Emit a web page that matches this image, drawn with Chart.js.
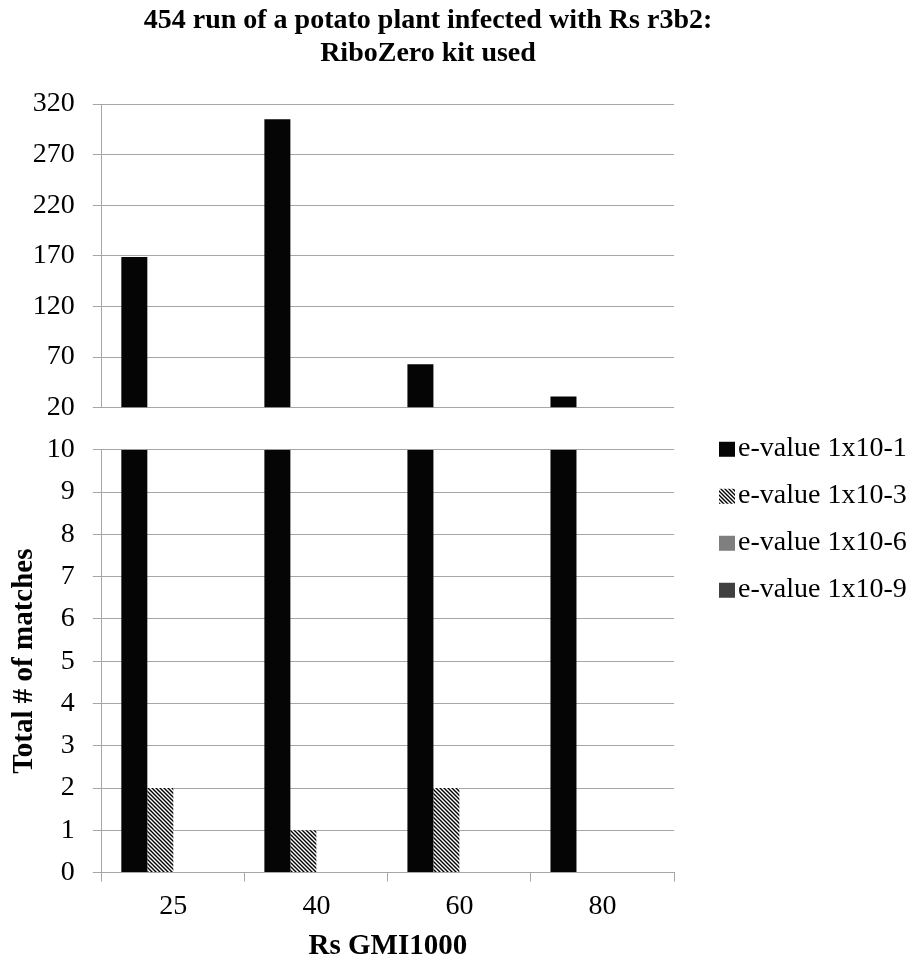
<!DOCTYPE html>
<html>
<head>
<meta charset="utf-8">
<title>454 run - RiboZero</title>
<script src="https://cdn.jsdelivr.net/npm/chart.js@4.4.1/dist/chart.umd.min.js"></script>
<style>
  body { margin: 0; background: #fff; }
  #wrap { width: 920px; height: 962px; position: relative; }
</style>
</head>
<body>
<div id="wrap"><canvas id="matchChart"></canvas></div>
<script>
var categories = ['25', '40', '60', '80'];
var seriesNames = ['e-value 1x10-1', 'e-value 1x10-3', 'e-value 1x10-6', 'e-value 1x10-9'];
var eval1 = [169, 305, 63, 31];
var eval3 = [2, 1, 2, 0];
var eval6 = [0, 0, 0, 0];
var eval9 = [0, 0, 0, 0];

// broken axis: upper part and lower part
var upperMin = 20, upperMax = 320, upperStep = 50;
var lowerMin = 0, lowerMax = 10, lowerStep = 1;

var titleLines = ['454 run of a potato plant infected with Rs r3b2:', 'RiboZero kit used'];
var xTitle = 'Rs GMI1000';
var yTitle = 'Total # of matches';

Chart.defaults.font.family = '"Liberation Serif", "Times New Roman", serif';
Chart.defaults.color = '#000';

function hatchPattern() {
    var c = document.createElement('canvas');
    c.width = 4;
    c.height = 4;
    var g = c.getContext('2d');
    g.fillStyle = '#fff';
    g.fillRect(0, 0, 4, 4);
    g.strokeStyle = '#000';
    g.lineWidth = 1.4;
    g.beginPath();
    g.moveTo(-1, -1); g.lineTo(5, 5);
    g.moveTo(-1, 3); g.lineTo(1, 5);
    g.moveTo(3, -1); g.lineTo(5, 1);
    g.stroke();
    return g.createPattern(c, 'repeat');
}

var seriesValues = [eval1, eval3, eval6, eval9];
var seriesFills = ['#050505', hatchPattern(), '#7f7f7f', '#404040'];

// each series is drawn twice, once per part of the axis, sharing one bar slot
var datasets = [];
seriesValues.forEach(function (vals, i) {
    datasets.push({
        label: seriesNames[i],
        data: vals.map(function (v) { return Math.max(v, upperMin); }),
        yAxisID: 'yTop',
        stack: 's' + i,
        base: upperMin,
        backgroundColor: seriesFills[i],
        borderWidth: 0
    });
    datasets.push({
        label: seriesNames[i],
        data: vals.map(function (v) { return Math.min(v, lowerMax); }),
        yAxisID: 'yBot',
        stack: 's' + i,
        backgroundColor: seriesFills[i],
        borderWidth: 0
    });
});

var gridGray = '#a6a6a6';

var sideLegend = {
    id: 'sideLegend',
    afterDraw: function (chart) {
        var ctx = chart.ctx;
        var area = chart.chartArea;
        var top = chart.scales.yBot.top;
        ctx.save();
        ctx.font = '28px "Liberation Serif"';
        ctx.textBaseline = 'middle';
        ctx.textAlign = 'left';
        for (var i = 0; i < seriesNames.length; i++) {
            var y = top - 1 + i * 47;
            ctx.fillStyle = seriesFills[i];
            ctx.fillRect(area.right + 45, y - 7, 16, 15);
            ctx.fillStyle = '#000';
            ctx.fillText(seriesNames[i], area.right + 64, y);
        }
        ctx.restore();
    }
};

var config = {
    type: 'bar',
    data: {
        labels: categories,
        datasets: datasets
    },
    options: {
        responsive: true,
        maintainAspectRatio: false,
        animation: false,
        categoryPercentage: 0.727,
        barPercentage: 1.0,
        layout: { padding: { left: 0, right: 64, top: 0, bottom: 0 } },
        plugins: {
            legend: { display: false },
            tooltip: { enabled: false },
            title: {
                display: true,
                text: titleLines,
                color: '#000',
                font: { size: 28, weight: 'bold', lineHeight: 1.18 },
                padding: { top: 4, bottom: 34 }
            }
        },
        scales: {
            x: {
                grid: { drawOnChartArea: false, drawTicks: true, tickLength: 9, color: gridGray, offset: true },
                border: { color: gridGray },
                ticks: { font: { size: 28 }, padding: 8, color: '#000' },
                title: { display: true, text: xTitle, font: { size: 29, weight: 'bold' }, padding: { top: -2, bottom: -2 }, color: '#000' }
            },
            yTop: {
                type: 'linear',
                position: 'left',
                stack: 'left',
                stackWeight: 303,
                weight: 3,
                stacked: false,
                min: upperMin,
                max: upperMax,
                ticks: { stepSize: upperStep, autoSkip: false, font: { size: 28 }, padding: 18, color: '#000' },
                grid: { color: gridGray, tickLength: 9 },
                border: { color: gridGray }
            },
            ySpacer: {
                type: 'linear',
                position: 'left',
                stack: 'left',
                stackWeight: 42,
                weight: 2,
                grid: { display: false },
                ticks: { display: false },
                border: { display: false }
            },
            yBot: {
                type: 'linear',
                position: 'left',
                stack: 'left',
                stackWeight: 422,
                weight: 1,
                stacked: false,
                min: lowerMin,
                max: lowerMax,
                ticks: { stepSize: lowerStep, autoSkip: false, font: { size: 28 }, padding: 18, color: '#000' },
                grid: { color: gridGray, tickLength: 9 },
                border: { color: gridGray },
                title: { display: true, text: yTitle, font: { size: 29, weight: 'bold' }, padding: { top: 7, bottom: -13 }, color: '#000' }
            },
            // empty axis that only keeps room for the legend on the right
            yRoom: {
                type: 'linear',
                position: 'right',
                grid: { display: false },
                ticks: { display: false },
                border: { display: false },
                afterFit: function (scale) { scale.width = 182; }
            }
        }
    },
    plugins: [sideLegend]
};

var ctx = document.getElementById('matchChart').getContext('2d');
window.matchChart = new Chart(ctx, config);
</script>
</body>
</html>
